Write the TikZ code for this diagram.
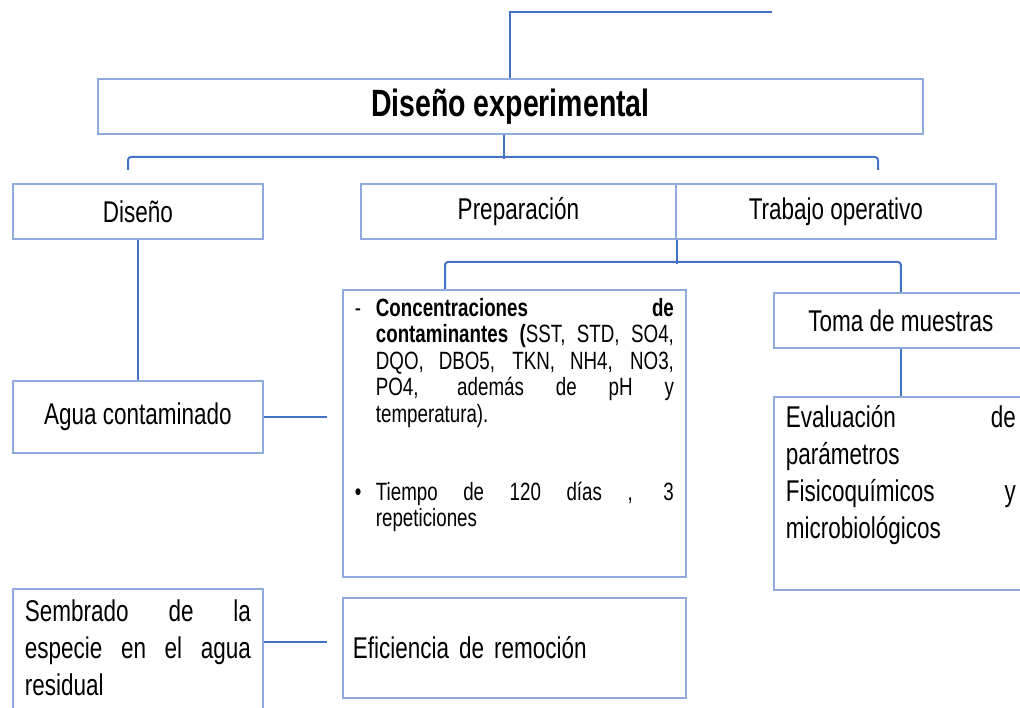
\documentclass[tikz,border=0pt]{standalone}
\usepackage{fontspec}
\setmainfont[FakeStretch=0.75]{Liberation Sans}
\definecolor{boxblue}{RGB}{143,170,220}
\definecolor{lineblue}{RGB}{68,114,196}

\begin{document}
\begin{tikzpicture}[x=1pt,y=-1pt]
\tikzstyle{every node}+=[inner sep=0pt]
\tikzstyle{box}=[draw=boxblue, line width=1.8pt, rectangle, anchor=north west, font=\fontsize{30}{37}\selectfont]
\tikzstyle{link}=[lineblue, line width=2pt]
\tikzstyle{brace}=[lineblue, line width=2pt, rounded corners=3pt]
\clip (0,0) rectangle (1020,708);
\node [box, minimum width=825pt, minimum height=55pt, font=\fontsize{38}{42}\selectfont\bfseries] (titulo) at (97,78) {Diseño experimental};
\node [box, minimum width=250pt, minimum height=55pt] (diseno) at (12,183) {Diseño};
\node [box, minimum width=315pt, minimum height=55pt] (prep) at (360,183) {Preparación};
\node [box, minimum width=320pt, minimum height=55pt] (trabajo) at (675,183) {Trabajo operativo};
\node [box, minimum width=250pt, minimum height=72pt] (agua) at (12,380) {Agua contaminado};
\node [box, inner xsep=12pt, inner ysep=8pt, font=\fontsize{25}{26.5}\selectfont] (conc) at (342,289)
  {\parbox[c][271pt][t]{319pt}{\tolerance=10000
  \noindent\hangindent=21pt\hangafter=1\makebox[21pt][l]{-}\textbf{Concentraciones de\linebreak contaminantes (}SST, STD, SO4,\linebreak DQO, DBO5, TKN, NH4, NO3,\linebreak PO4, además de pH y\linebreak temperatura).\par
  \vspace{51.5pt}
  \noindent\hangindent=21pt\hangafter=1\makebox[21pt][l]{\textbullet}Tiempo de 120 días , 3\linebreak repeticiones\par}};
\node [box, minimum width=254pt, minimum height=55pt] (toma) at (773,292) {Toma de muestras};
\node [box, inner xsep=12pt, inner ysep=9pt] (eval) at (773,396)
  {\parbox[c][175pt][t]{230pt}{Evaluación\hfill de\\ parámetros\\ Fisicoquímicos\hfill y\\ microbiológicos}};
\node [box, inner xsep=12pt, inner ysep=11pt] (semb) at (12,588)
  {\parbox[c][110pt][t]{226pt}{\tolerance=10000 Sembrado de la\linebreak especie en el agua\linebreak residual}};
\node [box, inner xsep=10pt, text width=323pt, align=left, minimum height=100pt] (efic) at (342,597) {Eficiencia de remoción};
\coordinate (topfin) at (772,12);
\coordinate (b1izq) at (128,170);
\coordinate (b1der) at (878,170);
\coordinate (sembsal) at ([yshift=13pt]semb.east);
\draw [link] (topfin) -| (titulo.north);
\draw [link] ([xshift=-6pt]titulo.south) -- ++(0,24);
\draw [brace] (b1izq) -- ++(0,-13) -| (b1der);
\draw [link] (prep.south east) -- ++(0,24);
\draw [brace] ([xshift=103pt]conc.north west) -- ++(0,-27) -| (toma.north);
\draw [link] (diseno.south) -- (agua.north);
\draw [link] (agua.east) -- ([xshift=-15pt]conc.west |- agua.east);
\draw [link] (sembsal) -- ([xshift=-15pt]efic.west |- sembsal);
\draw [link] (toma.south) -- (eval.north);
\end{tikzpicture}
\end{document}
